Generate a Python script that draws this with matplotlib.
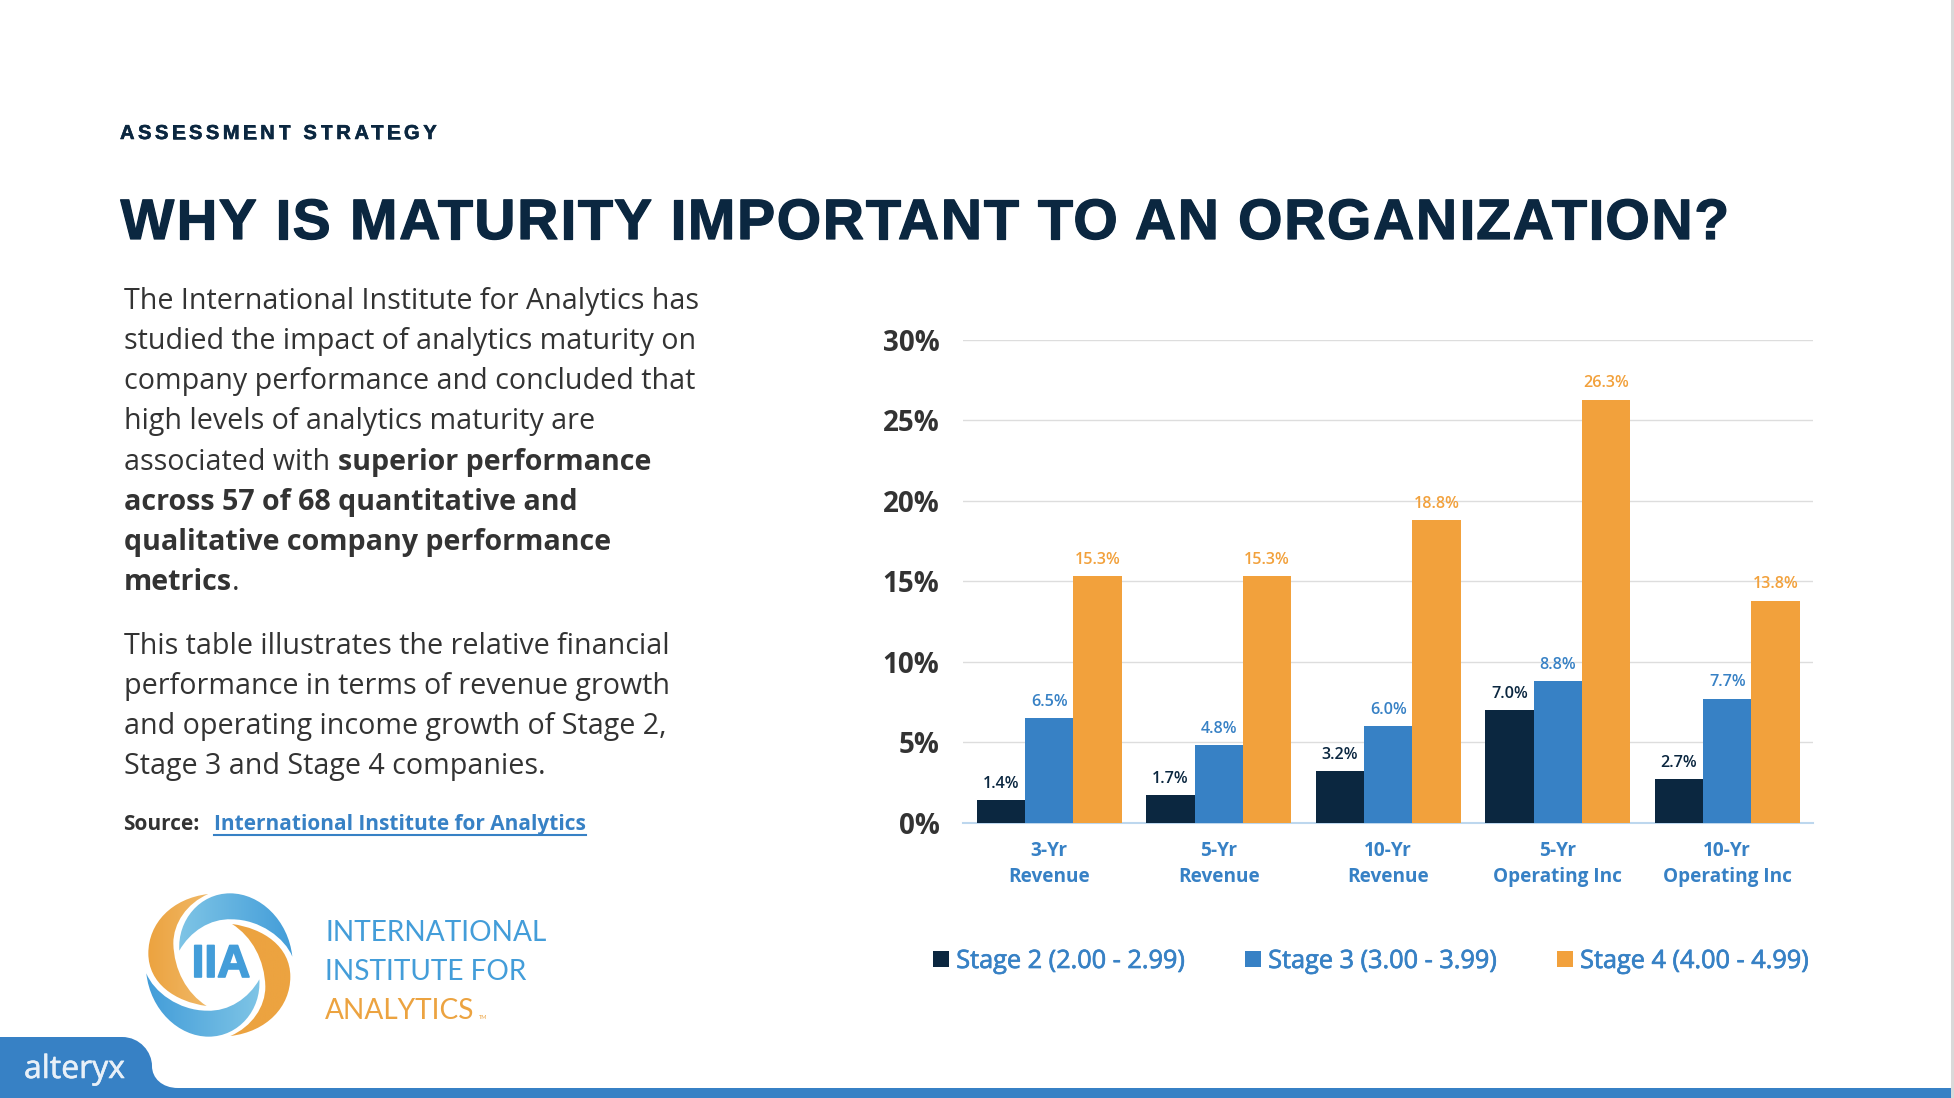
import matplotlib
matplotlib.use("Agg")
import matplotlib.patheffects as pe
import matplotlib.pyplot as plt
import numpy as np
from matplotlib.colors import LinearSegmentedColormap
from matplotlib.patches import PathPatch, Rectangle
from matplotlib.path import Path as MPath
from matplotlib.text import Text

categories = ["3-Yr\nRevenue", "5-Yr\nRevenue", "10-Yr\nRevenue", "5-Yr\nOperating Inc", "10-Yr\nOperating Inc"]
stage_2 = [1.4, 1.7, 3.2, 7.0, 2.7]
stage_3 = [6.5, 4.8, 6.0, 8.8, 7.7]
stage_4 = [15.3, 15.3, 18.8, 26.3, 13.8]
series_names = ["Stage 2 (2.00 - 2.99)", "Stage 3 (3.00 - 3.99)", "Stage 4 (4.00 - 4.99)"]
y_ticks = [0, 5, 10, 15, 20, 25, 30]

NAVY = "#0B2740"
BLUE = "#3781C5"
ORANGE = "#F2A13C"
LOGO_BLUE = "#439DD9"
LOGO_LIGHT = "#7FC5E6"
LOGO_ORANGE = "#ECA340"
BODY = "#333333"
SANS = ["Open Sans", "DejaVu Sans"]
ARIAL = ["Liberation Sans", "DejaVu Sans"]
THIN = ["Lato", "Liberation Sans", "DejaVu Sans"]

W, H = 1954, 1098
fig = plt.figure(figsize=(W / 100, H / 100), dpi=100, facecolor="white")

# full figure axes in pixel coordinates for the slide furniture
bg = fig.add_axes([0, 0, 1, 1])
bg.set_xlim(0, W)
bg.set_ylim(H, 0)
bg.axis("off")


class TrackedText(Text):
    # one text artist, drawn with extra letter spacing (in pixels)
    def __init__(self, *args, tracking=0, **kwargs):
        super().__init__(*args, **kwargs)
        self.tracking = tracking

    def draw(self, renderer):
        full = self.get_text()
        x0, y0 = self.get_position()
        prop = self.get_fontproperties()

        def width(s):
            return renderer.get_text_width_height_descent(s, prop, False)[0]

        for i, ch in enumerate(full):
            if ch == " ":
                continue
            self.set_text(ch)
            self.set_x(x0 + width(full[: i + 1]) - width(ch) + i * self.tracking)
            super().draw(renderer)
        self.set_text(full)
        self.set_x(x0)


def tracked(x, y, s, tracking, **kwargs):
    t = TrackedText(x, y, s, tracking=tracking, **kwargs)
    bg.add_artist(t)
    return t


def text_end(t):
    box = t.get_window_extent(fig.canvas.get_renderer())
    return box.x1


def heavier(width, color):
    return [pe.withStroke(linewidth=width, foreground=color)]


tracked(120, 139, "ASSESSMENT STRATEGY", 3.55, family=ARIAL, fontweight="bold", fontsize=14.5, color=NAVY,
        path_effects=heavier(0.4, NAVY))
tracked(120.5, 239, "WHY IS MATURITY IMPORTANT TO AN ORGANIZATION?", 1.7, family=ARIAL, fontweight="bold",
        fontsize=41, color=NAVY, path_effects=heavier(0.9, NAVY))

# body copy, one line at a time as on the slide
body_size = 20.6
plain_lines = [
    (123.5, 309, "The International Institute for Analytics has"),
    (123.5, 349, "studied the impact of analytics maturity on"),
    (123.5, 389, "company performance and concluded that"),
    (123.5, 429, "high levels of analytics maturity are"),
    (123.5, 654, "This table illustrates the relative financial"),
    (123.5, 694, "performance in terms of revenue growth"),
    (123.5, 734, "and operating income growth of Stage 2,"),
    (123.5, 774, "Stage 3 and Stage 4 companies."),
]
for x, y, line in plain_lines:
    bg.text(x, y, line, family=SANS, fontsize=body_size, color=BODY)

bg.text(123.5, 470, "associated with ", family=SANS, fontsize=body_size, color=BODY)
bg.text(338, 470, "superior performance", family=SANS, fontsize=body_size, fontweight="bold", color=BODY)
bg.text(123.5, 510, "across 57 of 68 quantitative and", family=SANS, fontsize=body_size, fontweight="bold", color=BODY)
bg.text(123.5, 550, "qualitative company performance", family=SANS, fontsize=body_size, fontweight="bold", color=BODY)
t = bg.text(123.5, 590, "metrics", family=SANS, fontsize=body_size, fontweight="bold", color=BODY)
bg.text(text_end(t), 590, ".", family=SANS, fontsize=body_size, color=BODY)

bg.text(123.5, 830, "Source:", family=SANS, fontsize=15, fontweight="bold", color=BODY)
t = bg.text(214, 830, "International Institute for Analytics", family=SANS, fontsize=15, fontweight="bold", color=BLUE)
bg.plot([214, text_end(t)], [835, 835], color=BLUE, lw=1.5)

# bottom band and the alteryx tab
bg.add_patch(Rectangle((0, 1088), 1951, 10, color=BLUE, lw=0))
tab = MPath(
    [(0, 1037), (122, 1037), (140, 1037), (152, 1052), (152, 1066), (152, 1078), (162, 1088), (178, 1088), (178, 1098), (0, 1098), (0, 1037)],
    [MPath.MOVETO, MPath.LINETO, MPath.CURVE4, MPath.CURVE4, MPath.CURVE4, MPath.CURVE4, MPath.CURVE4, MPath.CURVE4, MPath.LINETO, MPath.LINETO, MPath.CLOSEPOLY],
)
bg.add_patch(PathPatch(tab, color=BLUE, lw=0))
bg.text(24, 1078, "alteryx", family=SANS, fontsize=23, color="#E8F0F8", path_effects=heavier(0.4, "#E8F0F8"))

# right slide edge
bg.add_patch(Rectangle((1951, 0), 3, H, color="#D9D9D9", lw=0))


def crescent(points, rot=False):
    verts = []
    for zx, zy in points:
        if rot:
            zx, zy = 716 - zx, 630 - zy
        verts.append((100 + zx / 3, 860 + zy / 3))
    codes = [MPath.MOVETO] + [MPath.CURVE4] * (len(verts) - 1)
    return MPath(verts, codes)


def fill_gradient(path, left, right):
    cmap = LinearSegmentedColormap.from_list("g", [left, right])
    x0, y0 = path.vertices.min(axis=0)
    x1, y1 = path.vertices.max(axis=0)
    im = bg.imshow(np.linspace(0, 1, 64).reshape(1, -1), cmap=cmap, extent=(x0, x1, y1, y0), aspect="auto")
    im.set_clip_path(PathPatch(path, transform=bg.transData))


orange_pts = [(325, 102), (215, 115), (145, 190), (145, 280), (145, 370), (225, 425), (320, 438),
              (260, 400), (222, 330), (220, 250), (220, 190), (260, 130), (325, 102)]
blue_pts = [(238, 272), (232, 180), (300, 100), (390, 100), (480, 100), (565, 180), (577, 290),
            (555, 235), (480, 178), (395, 178), (330, 175), (270, 215), (238, 272)]
fill_gradient(crescent(orange_pts), LOGO_ORANGE, "#F0B866")
fill_gradient(crescent(orange_pts, True), LOGO_ORANGE, LOGO_ORANGE)
fill_gradient(crescent(blue_pts), LOGO_LIGHT, LOGO_BLUE)
fill_gradient(crescent(blue_pts, True), LOGO_BLUE, LOGO_LIGHT)
bg.set_xlim(0, W)
bg.set_ylim(H, 0)

bg.text(221, 965, "IIA", family=ARIAL, fontweight="bold", fontsize=33, color=LOGO_BLUE, ha="center", va="center",
        path_effects=heavier(1.2, LOGO_BLUE))
bg.text(325, 941, "INTERNATIONAL", family=THIN, fontsize=20.2, color=LOGO_BLUE)
bg.text(325, 980, "INSTITUTE FOR", family=THIN, fontsize=20.2, color=LOGO_BLUE)
t = bg.text(325, 1019, "ANALYTICS", family=THIN, fontsize=20.2, color=LOGO_ORANGE)
bg.text(479, 1019, "TM", family=THIN, fontsize=4, color=LOGO_ORANGE)

# chart: axes box runs from x=963 to x=1813, y=340 to y=822.5
ax = fig.add_axes([963 / W, 1 - 822.5 / H, 850 / W, 482.5 / H])
ax.patch.set_alpha(0)
x = np.arange(len(categories))
bar_w = 0.2855
series = [stage_2, stage_3, stage_4]
colors = [NAVY, BLUE, ORANGE]
handles = []
for k, (vals, col, name) in enumerate(zip(series, colors, series_names)):
    bars = ax.bar(x + (k - 1) * bar_w, vals, bar_w, color=col, label=name, zorder=3)
    ax.bar_label(bars, fmt="%.1f%%", padding=6, color=col, fontsize=11.6, fontweight="semibold", family=SANS)
    handles.append(bars)

ax.set_xlim(-0.509, 4.506)
ax.set_ylim(0, 30)
ax.set_yticks(y_ticks)
ax.set_yticklabels([f"{v}%" for v in y_ticks], family=SANS, fontsize=20, fontweight="bold", color=BODY)
ax.set_xticks(x)
ax.set_xticklabels(categories, family=SANS, fontsize=13.7, fontweight="bold", color=BLUE, linespacing=1.45)
ax.tick_params(axis="both", length=0)
ax.tick_params(axis="y", pad=17)
ax.tick_params(axis="x", pad=13)
ax.grid(axis="y", color="#DDDDDD", lw=1, zorder=0)
ax.set_axisbelow(True)
for side in ("top", "right", "left"):
    ax.spines[side].set_visible(False)
ax.spines["bottom"].set_color("#BDD7EE")
ax.spines["bottom"].set_linewidth(1.5)

leg = fig.legend(handles=handles, labels=series_names, loc="center left", bbox_to_anchor=(933 / W, 1 - 961.5 / H), ncol=3,
                 frameon=False, labelcolor=BLUE, handlelength=0.62, handleheight=0.62, handletextpad=0.3, columnspacing=2.4,
                 prop={"family": SANS, "size": 18.2}, borderpad=0, borderaxespad=0)
for label in leg.get_texts():
    label.set_path_effects(heavier(0.5, BLUE))

fig.savefig("out.png", dpi=100)
